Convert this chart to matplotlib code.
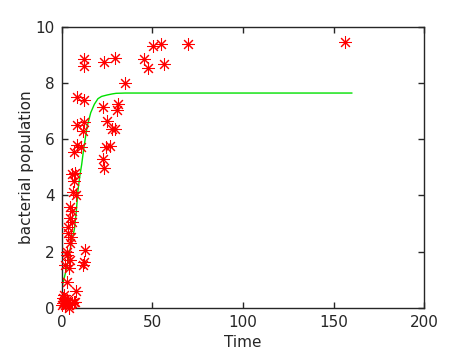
import matplotlib
matplotlib.use("Agg")
import matplotlib.pyplot as plt

# observed data (Time, bacterial population)
t_obs = [12.5, 12.5, 23.5, 29.6, 45.5, 47.8, 50.5, 54.8, 69.8, 56.4, 156.4, 34.9,
         8.3, 12.5, 22.9, 30.9, 30.5,
         8.3, 12.5, 25.2, 11.6, 27.6, 29.4,
         8.3, 10.6, 6.8, 24.4, 26.6, 22.9, 23.5,
         5.5, 7.5, 6.6, 6.4, 7.7, 4.6, 5.5, 4.6, 5.5, 3.6, 3.3, 5.1, 4.3,
         3.1, 2.9, 2.0, 4.2, 4.6, 12.7, 12.5, 11.9,
         2.9, 8.1, 1.1, 2.9, 7.5, 1.6, 3.9, 0.5, 0.9, 5.5, 4.2, 0.0, 2.0, 1.0, 6.5]
pop_obs = [8.86, 8.62, 8.75, 8.91, 8.88, 8.56, 9.34, 9.40, 9.40, 8.69, 9.47, 8.02,
           7.52, 7.40, 7.17, 7.26, 7.05,
           6.51, 6.61, 6.66, 6.31, 6.37, 6.38,
           5.80, 5.74, 5.56, 5.74, 5.78, 5.29, 4.97,
           4.77, 4.80, 4.53, 4.14, 4.00, 3.60, 3.45, 3.21, 3.07, 2.89, 2.65, 2.53, 2.32,
           2.00, 1.88, 1.52, 1.40, 1.70, 2.06, 1.64, 1.52,
           0.93, 0.61, 0.45, 0.27, 0.21, 0.10, 0.10, 0.34, 0.16, 0.16, 0.00, 0.10, 0.30, 0.25, 0.20]

# fitted curve
t_fit = [0, 1, 3, 5, 7, 8, 9, 10, 11, 12, 14, 16, 18, 20, 22, 25, 28, 30, 35, 160]
pop_fit = [0.70, 0.95, 1.50, 2.20, 2.80, 3.40, 4.20, 4.70, 5.10, 5.60, 6.45, 6.95,
           7.25, 7.45, 7.53, 7.58, 7.62, 7.64, 7.65, 7.65]

x_ticks = [0, 50, 100, 150, 200]
y_ticks = [0, 2, 4, 6, 8, 10]

fig = plt.figure(figsize=(4.69, 3.52), dpi=100)
ax = fig.add_axes([0.1316, 0.1259, 0.7731, 0.7971])

ax.plot(t_fit, pop_fit, color='#00e000', lw=1.0, zorder=2)
ax.plot(t_obs, pop_obs, linestyle='none', marker=(8, 2, 0), ms=9, mew=0.75,
        color='#ff0000', zorder=3, clip_on=False)

ax.set_xlim(0, 200)
ax.set_ylim(0, 10)
ax.set_xticks(x_ticks)
ax.set_yticks(y_ticks)
ax.tick_params(direction='in', length=4, width=1, top=True, right=True,
               labelsize=11, colors='#262626', pad=5)
for s in ax.spines.values():
    s.set_color('#262626')
    s.set_linewidth(1)
ax.set_xlabel('Time', fontsize=11, color='#262626', labelpad=4)
ax.set_ylabel('bacterial population', fontsize=11, color='#262626', labelpad=1)

fig.savefig('out.png', dpi=100)
